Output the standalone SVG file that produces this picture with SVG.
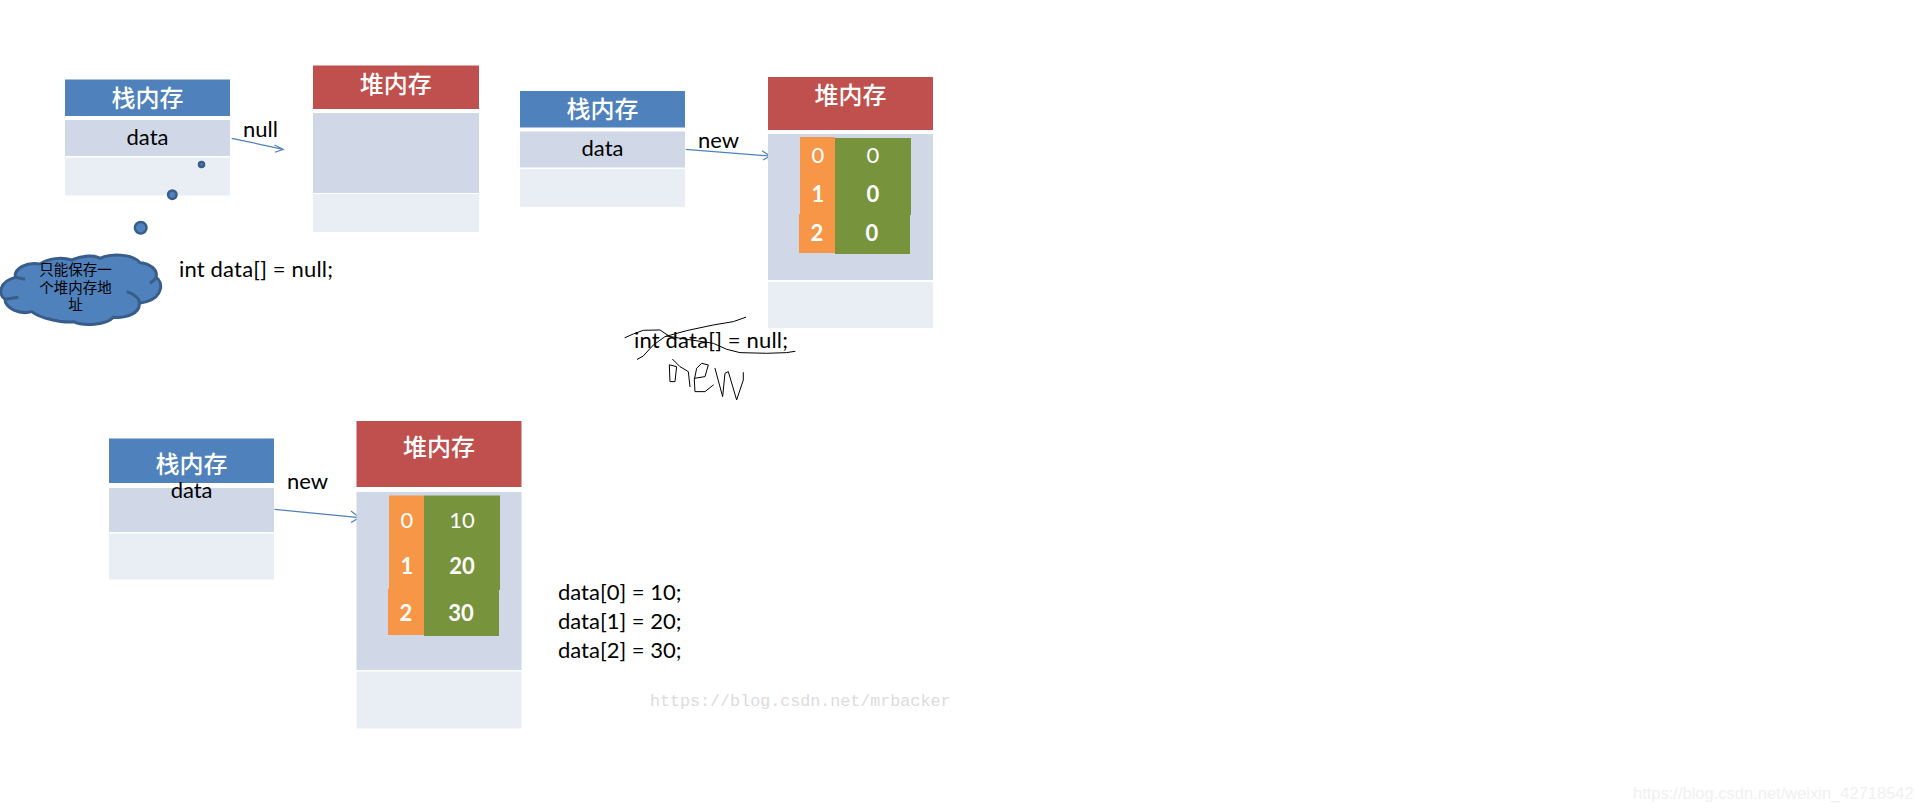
<svg xmlns="http://www.w3.org/2000/svg" width="1914" height="812" viewBox="0 0 1914 812">
<style>
text{font-family:Lato,"Liberation Sans",sans-serif;fill:#000}
.t{font-family:"Noto Sans CJK SC",sans-serif;font-size:24px;fill:#fff;text-anchor:middle;font-weight:500}
.l{font-size:22px}
.c{font-size:22px;text-anchor:middle}
.d{font-size:22px;fill:#fff;text-anchor:middle}
.b{font-weight:700}
.cc{font-family:"Noto Sans CJK SC",sans-serif;font-size:14.5px;text-anchor:middle}
.blue{fill:#4f81bd}.red{fill:#c0504d}.row{fill:#d0d8e8}.low{fill:#e9edf4}.or{fill:#f79646}.gr{fill:#77933c}
.ar{fill:none;stroke:#4f81bd;stroke-width:1.2}
.ink{fill:none;stroke:#000;stroke-width:3;stroke-linejoin:round;stroke-linecap:round}
.bub{fill:#4f81bd;stroke:#385d8a;stroke-width:2.5}
</style>
<rect width="1914" height="812" fill="#fff"/>
<g id="connectors">
<path class="ar" d="M231.7 138.3L283.3 149.3M274.5 145L283.3 149.3L275 152.3"/>
<path class="ar" d="M685.7 149.3L770 156M762 150.7L770 156L763 160"/>
<path class="ar" d="M274.5 509.4L359.4 517.6M351 511L359.4 517.6L351 522.4"/>
</g>
<g id="stack1">
<rect class="blue" x="65" y="79.5" width="165" height="36.5"/><rect class="row" x="65" y="120" width="165" height="36"/><rect class="low" x="65" y="157.5" width="165" height="38"/>
<text class="t" x="147.5" y="107">栈内存</text><text class="c" x="147.5" y="145">data</text>
</g>
<g id="heap1">
<rect class="red" x="313" y="65.5" width="166" height="43.5"/><rect class="row" x="313" y="113" width="166" height="80"/><rect class="low" x="313" y="194" width="166" height="38"/>
<text class="t" x="395.7" y="93">堆内存</text>
</g>
<g id="null-label"><text class="l" x="243" y="137">null</text></g>
<g id="thought">
<circle class="bub" cx="201.5" cy="164.5" r="2.5"/><circle class="bub" cx="172.3" cy="194.7" r="4.2"/><circle class="bub" cx="140.7" cy="227.7" r="5.8"/>
<g transform="translate(0 240) scale(.3333)">
<path d="M46 112C42 85 80 65 120 72C145 55 185 50 215 60C250 45 285 45 300 55C330 40 395 40 420 68C450 70 475 90 468 112C490 125 490 170 440 185L418 190C420 220 380 235 340 232C320 255 250 260 220 245C190 250 120 235 95 215C60 225 15 205 15 178C-5 165 -5 125 46 112Z" fill="#4f81bd" stroke="#385d8a" stroke-width="9"/>
<path d="M15 178L55 172M46 112L75 118M380 155C410 165 420 180 418 190M450 130L468 115" fill="none" stroke="#385d8a" stroke-width="9"/>
</g>
<text class="cc" x="75.5" y="275">只能保存一</text><text class="cc" x="75.5" y="293">个堆内存地</text><text class="cc" x="75.5" y="310">址</text>
</g>
<g id="code1"><text class="l" x="179" y="277" textLength="154">int data[] = null;</text></g>
<g id="stack2">
<rect class="blue" x="520" y="91" width="165" height="36.5"/><rect class="row" x="520" y="131.5" width="165" height="36"/><rect class="low" x="520" y="169" width="165" height="38"/>
<text class="t" x="602.5" y="118">栈内存</text><text class="c" x="602.5" y="155.7">data</text>
</g>
<g id="new-label-2"><text class="l" x="698" y="148">new</text></g>
<g id="heap2">
<rect class="red" x="768" y="77" width="165" height="53"/><rect class="row" x="768" y="134" width="165" height="146"/><rect class="low" x="768" y="282" width="165" height="46"/>
<text class="t" x="850.5" y="104">堆内存</text>
<path class="gr" d="M835 138H911V215H910V254H835Z"/>
<path class="or" d="M800 137H835V253H799V214H800Z"/>
<text class="d" x="818" y="163">0</text><text class="d b" x="818" y="201.7">1</text><text class="d b" x="817" y="241">2</text>
<text class="d" x="873" y="163">0</text><text class="d b" x="873" y="202">0</text><text class="d b" x="872" y="241">0</text>
</g>
<g id="code2"><text class="l" x="634" y="348" textLength="154">int data[] = null;</text></g>
<g id="scribble" transform="translate(500 60) scale(.3333)">
<path class="ink" d="M375 833L400 822L430 811L480 810L510 830"/>
<path class="ink" d="M412 898L430 888L460 855L495 830L560 812L640 795L700 785L737 772"/>
<path class="ink" d="M500 828L560 838L640 850L680 868L720 878L800 880L860 878L885 874"/>
<path class="ink" d="M508 915L510 965L525 965L530 920L510 915M518 898L540 920L565 935L570 980"/>
<path class="ink" d="M583 955L615 950L625 915L605 910L590 925L583 960L585 995L615 995L640 975"/>
<path class="ink" d="M645 925L668 1010L675 940L685 935L710 1020L730 960L730 938"/>
</g>
<g id="stack3">
<rect class="blue" x="109" y="438.5" width="165" height="44.500"/><rect class="row" x="109" y="488" width="165" height="44"/><rect class="low" x="109" y="533.5" width="165" height="46"/>
<text class="t" x="191.6" y="473">栈内存</text><text class="c" x="191.6" y="498" style="display:none"></text><text class="c" x="191.6" y="497" style="display:none"></text><text class="c" x="191.6" y="498" style="display:none"></text>
</g>
<g id="stack3-label"><text class="c" x="191.6" y="498">data</text></g>
<g id="new-label-3"><text class="l" x="287" y="489">new</text></g>
<g id="heap3">
<rect class="red" x="356.500" y="421" width="165" height="66"/><rect class="row" x="356.500" y="492" width="165" height="178"/><rect class="low" x="356.500" y="671.500" width="165" height="57"/>
<text class="t" x="439" y="456">堆内存</text>
<path class="gr" d="M424 495.500H500V590H499V636H424Z"/>
<path class="or" d="M389 495.500H424V635H388V588.500H389Z"/>
<text class="d" x="407" y="528">0</text><text class="d b" x="407" y="574">1</text><text class="d b" x="406" y="621">2</text>
<text class="d" x="462" y="528">10</text><text class="d b" x="462" y="574">20</text><text class="d b" x="461" y="621">30</text>
</g>
<g id="code3"><text class="l" x="558" y="600">data[0] = 10;</text><text class="l" x="558" y="629">data[1] = 20;</text><text class="l" x="558" y="658">data[2] = 30;</text></g>
<g id="watermarks">
<text x="650" y="706" style="font-family:'Liberation Mono',monospace;font-size:16.7px;fill:#dcdcdc">https://blog.csdn.net/mrbacker</text>
<text x="1633" y="799" style="font-family:'Liberation Sans',sans-serif;font-size:16.500px;fill:#f0f0f0">https://blog.csdn.net/weixin_42718542</text>
</g>
</svg>
